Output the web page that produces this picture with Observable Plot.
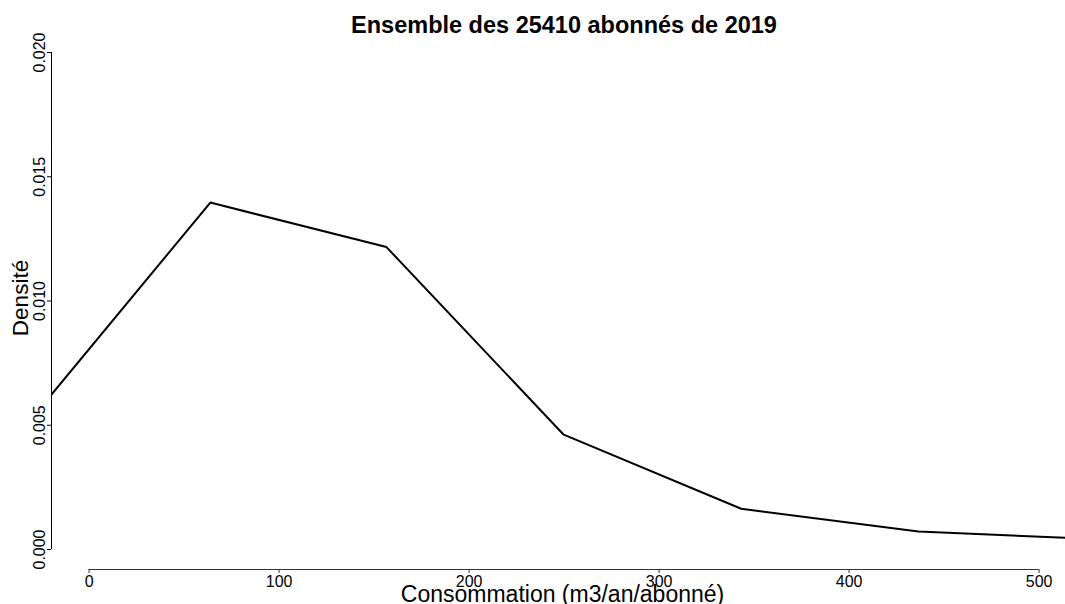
<!DOCTYPE html>
<html>
<head>
<meta charset="utf-8">
<script src="https://cdn.jsdelivr.net/npm/d3@7"></script>
<script src="https://cdn.jsdelivr.net/npm/@observablehq/plot@0.6"></script>
<style>
  html, body { margin: 0; padding: 0; background: #fff; }
  svg { display: block; }
</style>
</head>
<body>
<div id="chart"></div>
<script>
// Data
const consommation = [-29.5, 63.8, 156.5, 249.8, 343.2, 436.5, 530.0];
const densite = [0.00534, 0.01396, 0.01217, 0.00462, 0.00164, 0.00072, 0.00042];
const xTicks = [0, 100, 200, 300, 400, 500];
const yTicks = [0, 0.005, 0.010, 0.015, 0.020];
const title = "Ensemble des 25410 abonnés de 2019";
const xLabel = "Consommation (m3/an/abonné)";
const yLabel = "Densité";

const points = consommation.map((x, i) => ({x, y: densite[i]}));

const W = 1065, H = 604;
const mL = 51, mR = 0, mT = 26, mB = 35;
const x0px = 88.6, pxPerUnitX = 1.9;
const y0px = 549, pxPerUnitY = 24850;
const xDomain = [(mL - x0px) / pxPerUnitX, (W - mR - x0px) / pxPerUnitX];
const yDomain = [-(H - mB - y0px) / pxPerUnitY, (y0px - mT) / pxPerUnitY];

const font = "Liberation Sans, Arial, Helvetica, sans-serif";

const chart = Plot.plot({
  width: W,
  height: H,
  marginLeft: mL,
  marginRight: mR,
  marginTop: mT,
  marginBottom: mB,
  style: {fontFamily: font, color: "#000", background: "#fff", overflow: "visible"},
  x: {domain: xDomain},
  y: {domain: yDomain},
  marks: [
    // x axis line
    Plot.ruleY([yDomain[0]], {x1: xTicks[0], x2: xTicks[xTicks.length - 1], stroke: "#333", strokeWidth: 1}),
    Plot.axisX({ticks: xTicks, tickSize: 4, tickPadding: 2, fontSize: 16, label: null, stroke: "#333"}),
    // y axis line
    Plot.ruleX([xDomain[0]], {y1: yTicks[0], y2: yTicks[yTicks.length - 1], stroke: "#000", strokeWidth: 1}),
    Plot.axisY({ticks: yTicks, tickSize: 4, tickFormat: () => "", label: null, stroke: "#000"}),
    Plot.text(yTicks, {
      x: xDomain[0], y: d => d, text: d => d3.format(".3f")(d),
      rotate: -90, dx: -12, textAnchor: "middle", lineAnchor: "middle",
      fontSize: 16, fill: "#000"
    }),
    // data line
    Plot.line(points, {x: "x", y: "y", stroke: "#000", strokeWidth: 2, clip: true}),
    // title
    Plot.text([title], {frameAnchor: "top", dx: 5.5, dy: 6, lineAnchor: "bottom", fontSize: 23.5, fontWeight: "bold", fill: "#000"}),
    // axis labels
    Plot.text([xLabel], {frameAnchor: "bottom", dx: 4, dy: 32.5, lineAnchor: "bottom", fontSize: 23, fill: "#000"}),
    Plot.text([yLabel], {frameAnchor: "left", dx: -31, rotate: -90, lineAnchor: "middle", textAnchor: "middle", fontSize: 22.5, fill: "#000"})
  ]
});

document.getElementById("chart").appendChild(chart);
</script>
</body>
</html>
